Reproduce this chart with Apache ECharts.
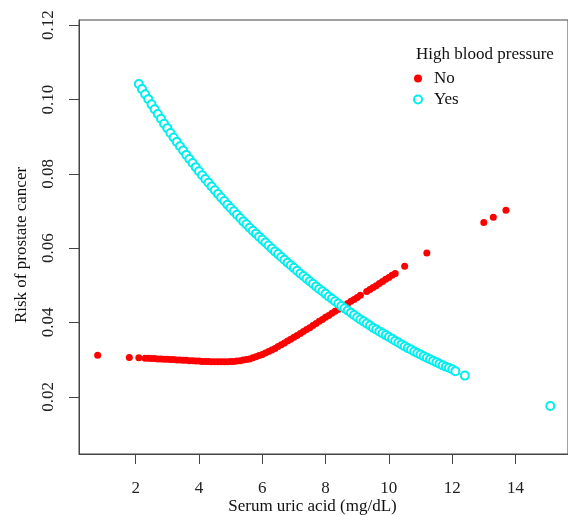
<!DOCTYPE html>
<html>
<head>
<meta charset="utf-8">
<script src="https://cdn.jsdelivr.net/npm/echarts@6/dist/echarts.min.js"></script>
<style>
html,body{margin:0;padding:0;background:#fff;}
#chart{width:568px;height:515px;}
</style>
</head>
<body>
<div id="chart"></div>
<script>
// ---- data ----
const xTicks = [2, 4, 6, 8, 10, 12, 14];
const yTicks = [0.02, 0.04, 0.06, 0.08, 0.10, 0.12];
const seriesNames = ['No', 'Yes'];
const legendTitle = 'High blood pressure';
const xTitle = 'Serum uric acid (mg/dL)';
const yTitle = 'Risk of prostate cancer';

const noX = [0.8, 1.8, 2.1, 2.3, 2.4, 2.5, 2.6, 2.7, 2.8, 2.9, 3.0, 3.1, 3.2, 3.3, 3.4, 3.5, 3.6, 3.7, 3.8, 3.9,
  4.0, 4.1, 4.2, 4.3, 4.4, 4.5, 4.6, 4.7, 4.8, 4.9, 5.0, 5.1, 5.2, 5.3, 5.4, 5.5, 5.6, 5.7, 5.8, 5.9,
  6.0, 6.1, 6.2, 6.3, 6.4, 6.5, 6.6, 6.7, 6.8, 6.9, 7.0, 7.1, 7.2, 7.3, 7.4, 7.5, 7.6, 7.7, 7.8, 7.9,
  8.0, 8.1, 8.2, 8.3, 8.4, 8.5, 8.6, 8.7, 8.8, 8.9, 9.0, 9.1, 9.3, 9.4, 9.5, 9.6, 9.7, 9.8, 9.9,
  10.0, 10.1, 10.2, 10.5, 11.2, 13.0, 13.3, 13.7];
const noY = [0.0312, 0.0306, 0.0305, 0.0304, 0.0304, 0.0303, 0.0303, 0.0302, 0.0302, 0.0301, 0.0301, 0.0300, 0.0300, 0.0299, 0.0299, 0.0298, 0.0298, 0.0297, 0.0297, 0.0296,
  0.0296, 0.0295, 0.0295, 0.0295, 0.0294, 0.0294, 0.0294, 0.0294, 0.0294, 0.0294, 0.0295, 0.0295, 0.0296, 0.0297, 0.0299, 0.0300, 0.0302, 0.0305, 0.0308, 0.0311,
  0.0314, 0.0318, 0.0322, 0.0326, 0.0330, 0.0335, 0.0340, 0.0345, 0.0350, 0.0355, 0.0360, 0.0365, 0.0370, 0.0376, 0.0381, 0.0386, 0.0392, 0.0397, 0.0403, 0.0408,
  0.0414, 0.0419, 0.0425, 0.0430, 0.0435, 0.0441, 0.0446, 0.0451, 0.0457, 0.0462, 0.0467, 0.0473, 0.0483, 0.0489, 0.0494, 0.0499, 0.0505, 0.0510, 0.0516,
  0.0521, 0.0527, 0.0532, 0.0551, 0.0587, 0.0669, 0.0683, 0.0702];

const yesX = [2.1, 2.2, 2.3, 2.4, 2.5, 2.6, 2.7, 2.8, 2.9, 3.0, 3.1, 3.2, 3.3, 3.4, 3.5, 3.6, 3.7, 3.8, 3.9,
  4.0, 4.1, 4.2, 4.3, 4.4, 4.5, 4.6, 4.7, 4.8, 4.9, 5.0, 5.1, 5.2, 5.3, 5.4, 5.5, 5.6, 5.7, 5.8, 5.9,
  6.0, 6.1, 6.2, 6.3, 6.4, 6.5, 6.6, 6.7, 6.8, 6.9, 7.0, 7.1, 7.2, 7.3, 7.4, 7.5, 7.6, 7.7, 7.8, 7.9,
  8.0, 8.1, 8.2, 8.3, 8.4, 8.5, 8.6, 8.7, 8.8, 8.9, 9.0, 9.1, 9.2, 9.3, 9.4, 9.5, 9.6, 9.7, 9.8, 9.9,
  10.0, 10.1, 10.2, 10.3, 10.4, 10.5, 10.6, 10.7, 10.8, 10.9, 11.0, 11.1, 11.2, 11.3, 11.4, 11.5, 11.6, 11.7, 11.8, 11.9,
  12.0, 12.1, 12.4, 15.1];
const yesY = [0.1042, 0.1028, 0.1014, 0.1001, 0.0987, 0.0974, 0.0961, 0.0948, 0.0935, 0.0923, 0.0910, 0.0898, 0.0886, 0.0874, 0.0863, 0.0851, 0.0840, 0.0829, 0.0818,
  0.0807, 0.0796, 0.0786, 0.0776, 0.0766, 0.0756, 0.0746, 0.0736, 0.0727, 0.0717, 0.0708, 0.0699, 0.0690, 0.0681, 0.0672, 0.0664, 0.0655, 0.0647, 0.0639, 0.0631,
  0.0623, 0.0615, 0.0607, 0.0599, 0.0591, 0.0584, 0.0576, 0.0569, 0.0561, 0.0554, 0.0547, 0.0539, 0.0532, 0.0525, 0.0518, 0.0511, 0.0504, 0.0497, 0.0490, 0.0484,
  0.0477, 0.0470, 0.0464, 0.0457, 0.0451, 0.0444, 0.0438, 0.0432, 0.0426, 0.0420, 0.0414, 0.0408, 0.0403, 0.0397, 0.0392, 0.0386, 0.0381, 0.0376, 0.0371, 0.0366,
  0.0361, 0.0356, 0.0351, 0.0346, 0.0341, 0.0336, 0.0331, 0.0327, 0.0322, 0.0318, 0.0314, 0.0309, 0.0305, 0.0301, 0.0297, 0.0293, 0.0289, 0.0285, 0.0281, 0.0278,
  0.0274, 0.0269, 0.0257, 0.0175];

const FONT = '"Liberation Serif", "Times New Roman", serif';
const AXIS_COLOR = '#444';

const chart = echarts.init(document.getElementById('chart'), null, {renderer: 'canvas'});
const pairs = (xs, ys) => xs.map((x, i) => [x, ys[i]]);

chart.setOption({
  animation: false,
  backgroundColor: '#fff',
  grid: {
    left: 79, top: 20, width: 497, height: 434,
    show: true, borderColor: AXIS_COLOR, borderWidth: 1, backgroundColor: 'transparent'
  },
  xAxis: {
    type: 'value', min: 0.21, max: 15.66,
    splitLine: {show: false},
    axisLine: {show: true, lineStyle: {color: AXIS_COLOR, width: 1}},
    axisTick: {show: true, length: 10, customValues: xTicks, lineStyle: {color: AXIS_COLOR}},
    axisLabel: {customValues: xTicks, margin: 26, color: '#222', fontFamily: FONT, fontSize: 17,
      formatter: v => String(v)}
  },
  yAxis: {
    type: 'value', min: 0.0046, max: 0.1214,
    splitLine: {show: false},
    axisLine: {show: true, lineStyle: {color: AXIS_COLOR, width: 1}},
    axisTick: {show: true, length: 10, customValues: yTicks, lineStyle: {color: AXIS_COLOR}},
    axisLabel: {customValues: yTicks, margin: 22, rotate: 90, color: '#222', fontFamily: FONT, fontSize: 17,
      formatter: v => v.toFixed(2)}
  },
  legend: {
    orient: 'vertical', left: 408, top: 65,
    itemWidth: 22, itemHeight: 8, itemGap: 4,
    textStyle: {fontFamily: FONT, fontSize: 17, color: '#111'},
    data: [{name: seriesNames[0], icon: 'circle'}, {name: seriesNames[1], icon: 'emptyCircle'}]
  },
  graphic: [
    {type: 'text', left: 416, top: 46, style: {text: legendTitle, font: '17px ' + FONT, fill: '#111'}},
    {type: 'text', x: 312.5, y: 507, style: {text: xTitle, font: '17px ' + FONT, fill: '#111', align: 'center', verticalAlign: 'middle'}},
    {type: 'text', x: 21.5, y: 245, rotation: Math.PI / 2, style: {text: yTitle, font: '17px ' + FONT, fill: '#111', align: 'center', verticalAlign: 'middle'}}
  ],
  series: [
    {
      name: seriesNames[0], type: 'scatter', symbol: 'circle', symbolSize: 7,
      itemStyle: {color: '#FF0000', opacity: 1},
      data: pairs(noX, noY), z: 2
    },
    {
      name: seriesNames[1], type: 'scatter', symbol: 'emptyCircle', symbolSize: 8,
      itemStyle: {color: '#00EEEE', borderColor: '#00EEEE', borderWidth: 1.3, opacity: 1},
      data: pairs(yesX, yesY), z: 3
    }
  ]
});
</script>
</body>
</html>
